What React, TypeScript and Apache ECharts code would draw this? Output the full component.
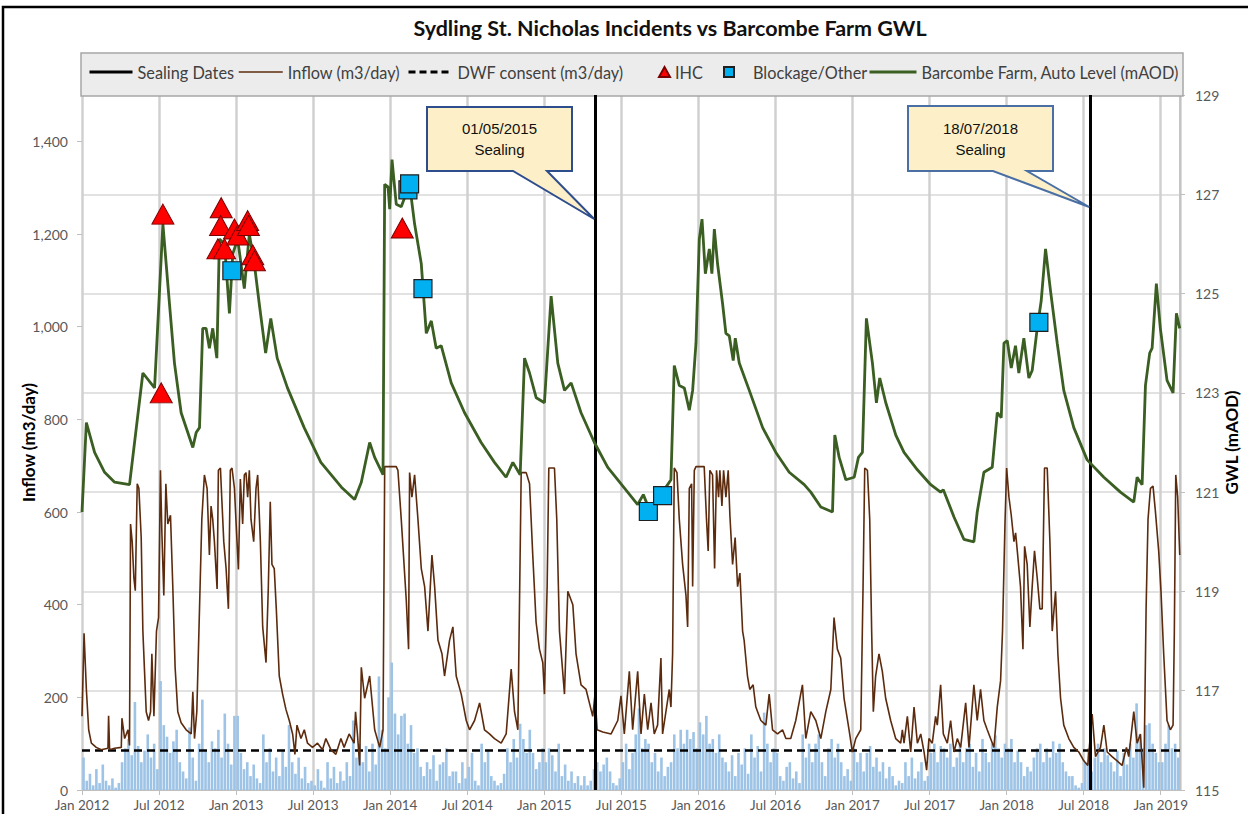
import React, { useEffect, useRef } from 'react';
import * as echarts from 'echarts';

// ---------- Text ----------
const CHART_TITLE = 'Sydling St. Nicholas Incidents vs Barcombe Farm GWL';
const X_TICK_LABELS = [
  'Jan 2012', 'Jul 2012', 'Jan 2013', 'Jul 2013', 'Jan 2014', 'Jul 2014', 'Jan 2015',
  'Jul 2015', 'Jan 2016', 'Jul 2016', 'Jan 2017', 'Jul 2017', 'Jan 2018', 'Jul 2018', 'Jan 2019',
];
const LEFT_AXIS_NAME = 'Inflow (m3/day)';
const RIGHT_AXIS_NAME = 'GWL (mAOD)';

// ---------- Data (x = months since Jan 2012) ----------
const SEALING_DATES = ['2015-05-01', '2018-07-18'];
const DWF_CONSENT = 85;

// Barcombe Farm groundwater level (mAOD)
const gwlLevel: [number, number][] = [
  [0.0, 120.6], [0.34, 122.4], [0.98, 121.8], [1.76, 121.4], [2.54, 121.2], [3.7, 121.15], [4.74, 123.4],
  [5.65, 123.1], [6.3, 126.4], [6.68, 125.2], [7.2, 123.6], [7.72, 122.6], [8.63, 121.9], [8.89, 122.2],
  [9.15, 122.3], [9.4, 124.3], [9.66, 124.3], [9.92, 123.9], [10.18, 124.3], [10.5, 123.7], [10.7, 126.1],
  [11.1, 126.0], [11.48, 124.6], [11.74, 125.8], [12.12, 126.1], [12.64, 125.1], [13.03, 126.2], [13.42, 125.6],
  [13.8, 124.8], [14.3, 123.8], [14.7, 124.5], [15.2, 123.7], [16.0, 123.1], [17.3, 122.3], [18.6, 121.6],
  [20.2, 121.1], [21.23, 120.85], [21.75, 121.2], [22.4, 122.0], [22.79, 121.7], [23.44, 121.35], [23.57, 127.2],
  [23.83, 127.15], [23.96, 126.7], [24.14, 127.7], [24.47, 126.8], [24.86, 126.75], [25.51, 127.2], [25.9, 126.4],
  [26.42, 125.6], [26.81, 124.2], [27.2, 124.45], [27.58, 123.9], [27.97, 123.95], [28.75, 123.2], [29.79, 122.6],
  [31.08, 122.0], [32.12, 121.6], [33.02, 121.3], [33.55, 121.6], [34.12, 121.35], [34.46, 123.7], [34.85, 123.4],
  [35.37, 122.9], [36.01, 122.8], [36.53, 124.95], [37.05, 123.6], [37.57, 123.05], [38.09, 123.2], [38.86, 122.6],
  [39.9, 122.0], [40.94, 121.5], [42.49, 121.0], [43.27, 120.75], [43.71, 120.95], [44.18, 120.65], [45.21, 121.0],
  [45.86, 121.25], [46.12, 123.55], [46.51, 123.15], [46.9, 123.1], [47.29, 122.65], [47.55, 123.05], [47.81, 124.0],
  [48.07, 126.1], [48.28, 126.5], [48.54, 125.4], [48.85, 125.9], [49.05, 125.4], [49.24, 126.3], [49.49, 125.6],
  [49.88, 124.8], [50.14, 124.2], [50.4, 124.15], [50.71, 123.65], [50.87, 124.1], [51.18, 123.6], [51.96, 123.05],
  [53.0, 122.3], [54.03, 121.8], [55.07, 121.4], [56.24, 121.15], [56.75, 121.0], [57.53, 120.7], [58.44, 120.6],
  [58.62, 122.15], [58.96, 121.7], [59.48, 121.25], [60.13, 121.3], [60.46, 121.7], [60.77, 121.8], [61.08, 124.5],
  [61.55, 123.6], [61.86, 122.8], [62.12, 123.3], [62.59, 122.8], [63.37, 122.15], [64.01, 121.8], [65.05, 121.45],
  [66.09, 121.15], [66.86, 121.0], [67.07, 121.05], [67.9, 120.5], [68.67, 120.05], [69.45, 120.0], [69.71, 120.6],
  [70.23, 121.4], [70.88, 121.5], [71.27, 122.6], [71.58, 122.5], [71.79, 124.0], [72.05, 124.05], [72.36, 123.5],
  [72.69, 123.95], [72.95, 123.4], [73.34, 124.1], [73.73, 123.3], [73.99, 123.45], [74.38, 124.3], [74.69, 124.85],
  [75.03, 125.9], [75.42, 125.05], [75.94, 124.0], [76.45, 123.05], [77.23, 122.3], [78.27, 121.65], [79.57, 121.3],
  [80.86, 121.0], [81.9, 120.8], [82.16, 121.3], [82.55, 121.15], [82.81, 123.15], [83.14, 123.8], [83.33, 123.9],
  [83.66, 125.2], [83.97, 124.3], [84.49, 123.25], [84.96, 123.0], [85.22, 124.6], [85.48, 124.3],
];

// Inflow (m3/day)
const inflow: [number, number][] = [
  [0.0, 159], [0.16, 338], [0.34, 217], [0.52, 130], [0.73, 101], [1.11, 92], [1.5, 87], [2.02, 90], [2.07, 160],
  [2.15, 87], [2.54, 90], [3.06, 92], [3.11, 155], [3.32, 111], [3.58, 130], [3.7, 96], [3.78, 574], [3.91, 535],
  [4.04, 458], [4.15, 430], [4.3, 661], [4.43, 651], [4.61, 545], [4.74, 343], [4.87, 256], [5.0, 169], [5.18, 150],
  [5.34, 169], [5.44, 294], [5.6, 159], [5.8, 343], [5.96, 372], [6.11, 690], [6.22, 555], [6.37, 420], [6.53, 661],
  [6.68, 574], [6.89, 593], [7.07, 439], [7.25, 265], [7.46, 169], [7.72, 145], [8.11, 130], [8.5, 121], [8.63, 212],
  [8.76, 111], [8.94, 169], [9.15, 391], [9.33, 584], [9.53, 680], [9.74, 651], [9.92, 507], [10.05, 613],
  [10.18, 584], [10.31, 536], [10.52, 434], [10.62, 690], [10.78, 695], [10.88, 632], [11.04, 536], [11.22, 478],
  [11.4, 391], [11.55, 690], [11.68, 695], [11.87, 651], [12.07, 536], [12.18, 476], [12.33, 671], [12.51, 574],
  [12.64, 680], [12.77, 685], [12.9, 632], [13.03, 690], [13.16, 584], [13.37, 536], [13.55, 651], [13.68, 680],
  [13.89, 536], [14.07, 352], [14.33, 275], [14.51, 439], [14.66, 622], [14.79, 487], [14.97, 478], [15.13, 391],
  [15.36, 246], [15.62, 207], [15.88, 174], [16.14, 150], [16.4, 121], [16.58, 77], [16.74, 140], [17.05, 111],
  [17.31, 130], [17.56, 101], [17.95, 92], [18.34, 101], [18.73, 87], [18.99, 111], [19.38, 87], [19.77, 77],
  [20.16, 111], [20.41, 92], [20.8, 121], [21.19, 101], [21.3, 169], [21.45, 120], [21.62, 53], [21.75, 265],
  [22.01, 198], [22.4, 246], [22.79, 130], [23.18, 92], [23.44, 130], [23.57, 698], [24.47, 698], [24.6, 690],
  [24.86, 584], [25.25, 410], [25.43, 304], [25.51, 685], [25.69, 632], [25.9, 680], [26.16, 584], [26.42, 478],
  [26.68, 439], [26.94, 343], [27.25, 507], [27.46, 439], [27.72, 323], [28.03, 294], [28.23, 246], [28.62, 323],
  [28.88, 352], [29.14, 246], [29.53, 207], [29.92, 150], [30.18, 130], [30.57, 150], [30.96, 188], [31.34, 130],
  [31.73, 121], [32.12, 111], [32.64, 101], [33.03, 121], [33.42, 261], [33.68, 169], [33.94, 130], [34.2, 685],
  [34.59, 685], [34.85, 661], [35.1, 507], [35.36, 362], [35.62, 304], [35.88, 275], [36.01, 207], [36.22, 439],
  [36.35, 695], [36.79, 695], [36.97, 584], [37.18, 343], [37.57, 207], [37.83, 429], [38.22, 400], [38.47, 294],
  [38.86, 227], [39.25, 217], [39.51, 188], [39.77, 159], [39.95, 207], [40.11, 130], [40.55, 125], [41.2, 121],
  [41.72, 150], [41.97, 203], [42.23, 121], [42.62, 256], [42.88, 130], [43.27, 256], [43.53, 121], [43.79, 207],
  [44.05, 130], [44.31, 188], [44.56, 121], [44.82, 140], [45.08, 285], [45.21, 121], [45.47, 169], [45.73, 217],
  [45.86, 179], [45.99, 294], [46.12, 695], [46.33, 685], [46.51, 584], [46.77, 487], [47.03, 420], [47.16, 352],
  [47.29, 651], [47.47, 661], [47.55, 439], [47.68, 690], [47.81, 698], [48.45, 698], [48.63, 584], [48.76, 516],
  [48.89, 690], [49.1, 680], [49.26, 478], [49.41, 690], [49.57, 632], [49.67, 690], [49.83, 613], [49.96, 690],
  [50.14, 632], [50.32, 690], [50.45, 593], [50.66, 487], [50.86, 545], [51.05, 439], [51.23, 468], [51.44, 343],
  [51.56, 323], [51.82, 246], [52.0, 217], [52.26, 227], [52.47, 179], [52.86, 150], [53.25, 140], [53.51, 207],
  [53.77, 130], [54.16, 121], [54.55, 130], [54.81, 111], [55.19, 111], [55.58, 150], [56.1, 227], [56.36, 111],
  [56.75, 169], [57.14, 150], [57.53, 111], [57.92, 169], [58.31, 217], [58.56, 372], [58.82, 304], [59.08, 285],
  [59.34, 198], [59.73, 130], [59.99, 82], [60.25, 111], [60.64, 130], [60.82, 439], [60.95, 695], [61.16, 690],
  [61.34, 584], [61.49, 343], [61.62, 169], [61.8, 246], [62.06, 294], [62.32, 256], [62.58, 198], [62.97, 150],
  [63.36, 111], [63.75, 101], [63.88, 130], [64.01, 101], [64.27, 159], [64.53, 82], [64.79, 179], [65.05, 101],
  [65.31, 121], [65.57, 82], [65.77, 43], [65.95, 111], [66.21, 101], [66.47, 159], [66.6, 140], [66.86, 227],
  [67.07, 121], [67.38, 101], [67.64, 150], [67.9, 82], [68.16, 111], [68.42, 92], [68.81, 188], [69.07, 92],
  [69.45, 227], [69.71, 150], [69.97, 217], [70.23, 150], [70.49, 130], [70.75, 111], [71.01, 92], [71.27, 179],
  [71.53, 236], [71.68, 343], [71.87, 574], [72.0, 695], [72.18, 632], [72.36, 593], [72.57, 536], [72.7, 555],
  [72.83, 516], [73.08, 439], [73.27, 304], [73.4, 526], [73.6, 487], [73.81, 352], [73.99, 439], [74.17, 516],
  [74.38, 458], [74.59, 391], [74.77, 391], [74.95, 695], [75.16, 695], [75.37, 536], [75.55, 343], [75.81, 429],
  [75.99, 294], [76.2, 198], [76.45, 140], [76.84, 111], [77.23, 92], [77.62, 82], [78.01, 63], [78.32, 53],
  [78.66, 164], [78.92, 72], [79.31, 92], [79.57, 140], [79.83, 82], [80.21, 72], [80.6, 63], [80.99, 53],
  [81.33, 92], [81.51, 72], [81.9, 169], [82.16, 101], [82.42, 121], [82.68, 5], [82.86, 391], [83.01, 584],
  [83.2, 651], [83.4, 656], [83.58, 603], [83.84, 516], [84.02, 429], [84.23, 294], [84.49, 150], [84.75, 130],
  [84.96, 140], [85.06, 343], [85.17, 680], [85.32, 632], [85.48, 507],
];

// Incidents, plotted at the groundwater level on the date
const ihcIncidents: [number, number][] = [
  [6.3, 126.6], [6.17, 123.0], [10.84, 126.73], [10.79, 126.37], [10.58, 125.9], [11.1, 125.9],
  [11.87, 126.3], [12.13, 126.18], [12.9, 126.47], [12.96, 126.37], [13.3, 125.78], [13.43, 125.66],
  [24.94, 126.32],
];
const blockageIncidents: [number, number][] = [
  [11.67, 125.46], [25.38, 127.09], [25.51, 127.21], [26.55, 125.1], [44.1, 120.61], [45.21, 120.93], [74.51, 124.42],
];

// Rainfall (shown as bars on the inflow axis), four readings per month
const rain2012 = [70, 20, 35, 10, 45, 15, 55, 20, 10, 25, 5, 15, 60, 90, 110, 75, 190, 95, 60, 85, 120, 70, 100, 45,
  235, 140, 115, 80, 105, 130, 60, 40, 25, 135, 70, 20, 100, 195, 85, 60, 105, 90, 130, 70, 165, 100, 55, 160];
const rain2013 = [160, 80, 45, 60, 30, 55, 25, 15, 120, 60, 90, 40, 70, 30, 85, 50, 140, 60, 35, 70, 25, 50, 15, 20,
  10, 45, 20, 5, 60, 25, 50, 15, 40, 20, 60, 30, 150, 70, 100, 60, 95, 40, 100, 55, 245, 130, 90, 200];
const rain2014 = [275, 165, 120, 160, 165, 100, 140, 80, 90, 50, 30, 60, 45, 75, 20, 55, 60, 90, 30, 40, 40, 15, 60, 25,
  50, 80, 20, 10, 100, 60, 85, 30, 20, 10, 15, 35, 90, 60, 110, 70, 143, 110, 80, 130, 80, 45, 60, 90];
const rain2015 = [60, 90, 75, 40, 100, 30, 55, 20, 40, 15, 30, 10, 30, 10, 20, 45, 60, 40, 55, 70, 40, 15, 10, 25,
  60, 100, 45, 80, 120, 176, 90, 110, 100, 60, 80, 40, 70, 30, 50, 60, 120, 90, 130, 100, 130, 110, 125, 90];
const rain2016 = [146, 120, 160, 100, 110, 80, 120, 70, 60, 40, 75, 30, 80, 55, 90, 35, 120, 70, 95, 40, 167, 100, 60, 90,
  80, 30, 20, 50, 60, 25, 40, 15, 120, 70, 100, 60, 100, 120, 60, 30, 90, 110, 70, 100, 60, 30, 45, 20];
const rain2017 = [90, 60, 80, 40, 80, 95, 50, 70, 40, 60, 25, 50, 30, 10, 20, 15, 60, 30, 70, 25, 40, 60, 20, 30,
  80, 100, 60, 95, 90, 70, 100, 50, 70, 100, 60, 90, 100, 50, 80, 40, 110, 80, 60, 100, 118, 90, 70, 100];
const rain2018 = [90, 110, 60, 85, 60, 30, 50, 40, 70, 90, 100, 60, 90, 70, 105, 80, 100, 60, 40, 30, 30, 10, 5, 15,
  60, 90, 40, 70, 100, 60, 90, 75, 60, 40, 85, 30, 80, 55, 100, 70, 187, 120, 90, 140, 144, 100, 80, 60];
const rain2019 = [60, 100, 140, 90, 100, 70];
const rainByYear: [number, number[]][] = [
  [2012, rain2012], [2013, rain2013], [2014, rain2014], [2015, rain2015],
  [2016, rain2016], [2017, rain2017], [2018, rain2018], [2019, rain2019],
];

// ---------- Helpers ----------
function dateToMonth(d: string): number {
  const [y, m, day] = d.split('-').map(Number);
  const dim = new Date(y, m, 0).getDate();
  return (y - 2012) * 12 + (m - 1) + (day - 1) / dim;
}
function dateLabel(d: string): string {
  const [y, m, day] = d.split('-');
  return `${day}/${m}/${y}`;
}

const rainData: [number, number][] = [];
rainByYear.forEach(([year, vals]) => {
  vals.forEach((v, i) => {
    rainData.push([(year - 2012) * 12 + Math.floor(i / 4) + (i % 4) * 0.25 + 0.12, v]);
  });
});

const sealingMonths = SEALING_DATES.map(dateToMonth);

const FONT = 'Lato';
const LABEL_COLOR = '#595959';

export default function App() {
  const ref = useRef<HTMLDivElement>(null);

  useEffect(() => {
    if (!ref.current) return;
    const chart = echarts.init(ref.current, undefined, { renderer: 'svg' });

    const legendText = { fontFamily: FONT, fontSize: 16.3, color: '#404040' };
    const legendBase = { top: 64, padding: 0, selectedMode: false, textStyle: legendText, itemHeight: 14 };
    const noSymbol = { opacity: 0 };

    const option: any = {
      animation: false,
      grid: { left: 82, right: 66, top: 95, bottom: 24, containLabel: false },
      legend: [
        { ...legendBase, left: 88, itemWidth: 43, data: ['Sealing Dates'], lineStyle: { width: 3 }, itemStyle: noSymbol },
        { ...legendBase, left: 238, itemWidth: 44, data: ['Inflow (m3/day)'], lineStyle: { width: 1.5 }, itemStyle: noSymbol },
        { ...legendBase, left: 407, itemWidth: 44, data: ['DWF consent (m3/day)'], lineStyle: { width: 3, type: [7, 4] }, itemStyle: noSymbol },
        { ...legendBase, left: 658, itemWidth: 11, itemHeight: 10, data: ['IHC'] },
        { ...legendBase, left: 723, itemWidth: 10, itemHeight: 10, data: ['Blockage/Other'],
          textStyle: { ...legendText, padding: [0, 0, 0, 14] } },
        { ...legendBase, left: 868, itemWidth: 47, data: ['Barcombe Farm, Auto Level (mAOD)'], lineStyle: { width: 3 }, itemStyle: noSymbol },
      ],
      xAxis: {
        type: 'value', min: 0, max: 85.5, interval: 6,
        axisLine: { show: true, lineStyle: { color: '#bfbfbf', width: 1 } },
        axisTick: { show: true, length: 5, lineStyle: { color: '#bfbfbf' } },
        axisLabel: {
          showMaxLabel: false, margin: 8, fontFamily: FONT, fontSize: 13.5, color: LABEL_COLOR,
          formatter: (v: number) => (Math.abs(v % 6) > 1e-6 ? '' : X_TICK_LABELS[Math.round(v / 6)] ?? ''),
        },
        splitLine: { show: true, lineStyle: { color: '#d0d0d0', width: 2.5 } },
      },
      yAxis: [
        {
          type: 'value', min: 0, max: 1500, interval: 200,
          name: LEFT_AXIS_NAME, nameLocation: 'middle', nameGap: 45, nameRotate: 90, nameMoveOverlap: false,
          nameTextStyle: { fontFamily: FONT, fontWeight: 'bold', fontSize: 17, color: '#000' },
          axisLine: { show: false },
          axisTick: { show: true, length: 5, lineStyle: { color: '#bfbfbf' } },
          axisLabel: {
            showMaxLabel: false, margin: 14, fontFamily: FONT, fontSize: 14, color: LABEL_COLOR,
            formatter: (v: number) => v.toLocaleString('en-US'),
          },
          splitLine: { show: false },
        },
        {
          type: 'value', position: 'right', min: 115, max: 129, interval: 2,
          name: RIGHT_AXIS_NAME, nameLocation: 'middle', nameGap: 43, nameRotate: 90, nameMoveOverlap: false,
          nameTextStyle: { fontFamily: FONT, fontWeight: 'bold', fontSize: 17, color: '#000' },
          axisLine: { show: true, lineStyle: { color: '#bfbfbf', width: 1.5 } },
          axisTick: { show: true, length: 5, lineStyle: { color: '#bfbfbf' } },
          axisLabel: { margin: 15, fontFamily: FONT, fontSize: 14, color: LABEL_COLOR },
          splitLine: { show: true, lineStyle: { color: '#d9d9d9', width: 1.5 } },
        },
      ],
      series: [
        {
          name: 'Rainfall', type: 'bar', yAxisIndex: 0, data: rainData, barWidth: 2.6,
          itemStyle: { color: '#9dc3e6' }, z: 1, silent: true,
        },
        {
          name: 'DWF consent (m3/day)', type: 'line', yAxisIndex: 0,
          data: [[0, DWF_CONSENT], [85.5, DWF_CONSENT]], symbol: 'none',
          lineStyle: { color: '#000', width: 2.5, type: [8, 5] }, itemStyle: { color: '#000' }, z: 3,
        },
        {
          name: 'Inflow (m3/day)', type: 'line', yAxisIndex: 0, data: inflow, symbol: 'none',
          lineStyle: { color: '#5c2b0e', width: 1.6 }, itemStyle: { color: '#8a5a3a' }, z: 4,
        },
        {
          name: 'Barcombe Farm, Auto Level (mAOD)', type: 'line', yAxisIndex: 1, data: gwlLevel, symbol: 'none',
          lineStyle: { color: '#3b5e22', width: 2.8 }, itemStyle: { color: '#3b5e22' }, z: 5,
        },
        {
          name: 'Sealing Dates', type: 'line', yAxisIndex: 0, data: [], symbol: 'none',
          lineStyle: { color: '#000', width: 3 }, itemStyle: { color: '#000' }, z: 6,
          markLine: {
            silent: true, symbol: ['none', 'none'], label: { show: false },
            lineStyle: { color: '#000', width: 3, type: 'solid' },
            data: sealingMonths.map((m) => ({ xAxis: m })),
          },
        },
        {
          name: 'IHC', type: 'scatter', yAxisIndex: 1, data: ihcIncidents, symbol: 'triangle', symbolSize: [22, 20],
          itemStyle: { color: '#ff0000', borderColor: '#7a0000', borderWidth: 1, opacity: 1 }, z: 7,
        },
        {
          name: 'Blockage/Other', type: 'scatter', yAxisIndex: 1, data: blockageIncidents, symbol: 'rect', symbolSize: 18,
          itemStyle: { color: '#00b0f0', borderColor: '#1f1f1f', borderWidth: 1.2, opacity: 1 }, z: 8,
        },
      ],
    };
    chart.setOption(option);

    const tip1 = chart.convertToPixel({ xAxisIndex: 0 }, sealingMonths[0]) as number;
    const tip2 = chart.convertToPixel({ xAxisIndex: 0 }, sealingMonths[1]) as number;

    const calloutStyle = (stroke: string) => ({ fill: '#fdf0c8', stroke, lineWidth: 2 });
    const calloutText = (x: number, y: number, text: string) => ({
      type: 'text', x, y, z: 101,
      style: { text, font: '15px "Liberation Sans", Arial, sans-serif', fill: '#111', textAlign: 'center', textVerticalAlign: 'middle' },
    });

    chart.setOption({
      graphic: [
        { type: 'rect', z: 0, shape: { x: 3, y: 7, width: 1300, height: 900 }, style: { fill: 'none', stroke: '#000', lineWidth: 2.5 } },
        {
          type: 'text', x: 670, y: 28, z: 10,
          style: { text: CHART_TITLE, font: `bold 21.5px ${FONT}`, fill: '#111', textAlign: 'center', textVerticalAlign: 'middle' },
        },
        { type: 'rect', z: 1, shape: { x: 81, y: 53, width: 1102, height: 43 }, style: { fill: '#ececec', stroke: '#a6a6a6', lineWidth: 1.5 } },
        {
          type: 'polygon', z: 100,
          shape: { points: [[427, 107], [572, 107], [572, 171], [547, 171], [tip1 - 1.5, 219], [513, 171], [427, 171]] },
          style: calloutStyle('#2e4d8c'),
        },
        calloutText(499.5, 128, dateLabel(SEALING_DATES[0])),
        calloutText(499.5, 149, 'Sealing'),
        {
          type: 'polygon', z: 100,
          shape: { points: [[908, 106], [1053, 106], [1053, 171], [1027, 171], [tip2 - 1.5, 207], [993, 171], [908, 171]] },
          style: calloutStyle('#4a6fa5'),
        },
        calloutText(980.5, 128, dateLabel(SEALING_DATES[1])),
        calloutText(980.5, 149, 'Sealing'),
      ],
    });

    return () => chart.dispose();
  }, []);

  return (
    <div
      ref={ref}
      style={{ position: 'fixed', left: 0, top: 0, width: 1248, height: 814, background: '#fff' }}
    />
  );
}
